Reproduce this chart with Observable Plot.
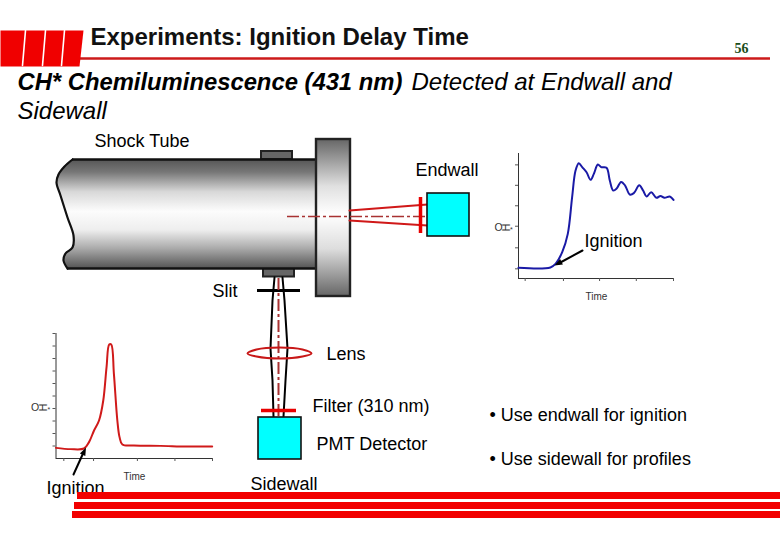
<!DOCTYPE html>
<html>
<head>
<meta charset="utf-8">
<script src="https://cdn.jsdelivr.net/npm/d3@7"></script>
<script src="https://cdn.jsdelivr.net/npm/@observablehq/plot@0.6"></script>
<style>html,body{margin:0;padding:0;background:#fff}svg{display:block}</style>
</head>
<body>
<div id="chart"></div>
<script>
// Endwall trace (time, CH* emission), relative units
const endwallTime = [0,.206,.239,.282,.318,.346,.368,.389,.411,.439,.465,.486,.512,.533,.568,.589,.611,.632,.662,.688,.718,.744,.779,.804,.826,.856,.89,.916,.942,.976,1];
const endwallSignal = [.094,.097,.129,.232,.393,.716,.95,1.015,.98,.935,.868,.921,1.003,.98,.974,.862,.774,.789,.85,.818,.739,.751,.821,.774,.721,.76,.71,.727,.71,.721,.692];
// Sidewall trace
const sidewallTime = [0,.094,.179,.211,.243,.275,.302,.323,.34,.353,.37,.392,.406,.424,.498,.668,.838,.998];
const sidewallSignal = [.085,.075,.08,.131,.224,.304,.464,.731,.912,.912,.677,.304,.171,.112,.104,.101,.096,.096];
const axisLabels = {x: "Time", y: ["O", "H", "*"]};
const titleText = "Experiments: Ignition Delay Time";
const pageNumber = "56";
const headingBold = "CH* Chemiluminescence (431 nm)";
const headingRest = "Detected at Endwall and";
const headingLine2 = "Sidewall";
const notes = ["• Use endwall for ignition", "• Use sidewall for profiles"];
const FONT = "Liberation Sans, Arial, sans-serif";

function inset({time, signal, color, w, h, ml, mb, yTicks, xTicks, domainY, left, top}) {
  const rows = time.map((t, i) => ({t, v: signal[i]}));
  const p = Plot.plot({
    width: w, height: h, marginLeft: ml, marginRight: 3, marginTop: 2, marginBottom: mb,
    style: {background: "transparent", overflow: "visible"},
    x: {domain: [0, 1]}, y: {domain: domainY},
    marks: [
      Plot.ruleX([0], {stroke: "#333", strokeWidth: 1}),
      Plot.ruleY([domainY[0]], {stroke: "#333", strokeWidth: 1}),
      Plot.axisY({ticks: yTicks, tickFormat: () => "", tickSize: 3, stroke: "#555", label: null}),
      Plot.axisX({ticks: xTicks, tickFormat: () => "", tickSize: 3, stroke: "#555", label: null}),
      Plot.line(rows, {x: "t", y: "v", stroke: color, strokeWidth: 2, curve: "catmull-rom"})
    ]
  });
  p.setAttribute("x", left);
  p.setAttribute("y", top);
  p.style.width = w + "px";
  p.style.height = h + "px";
  p.style.maxWidth = "none";
  return p;
}

const endwallInset = inset({time: endwallTime, signal: endwallSignal, color: "#1a1aa6",
  w: 173, h: 142, ml: 15, mb: 15, domainY: [0, 1.1], left: 503, top: 151,
  yTicks: [.085,.27,.46,.64,.82,1], xTicks: [.043,.29,.523,.76,1]});
const sidewallInset = inset({time: sidewallTime, signal: sidewallSignal, color: "#d01a1a",
  w: 174.5, h: 142, ml: 15, mb: 15, domainY: [0, 1], left: 40.5, top: 331,
  yTicks: [.1,.2,.3,.4,.5,.6,.7,.8,.9,1], xTicks: [.05,.24,.52,.76,1]});

const gradient = () => {
  const s = d3.create("svg:g");
  const defs = s.append("defs");
  [["tubeShade", [[0,"#555"],[.12,"#777"],[.3,"#d8d8d8"],[.48,"#fcfcfc"],[.65,"#eeeeee"],[.82,"#aaa"],[1,"#555"]]],
   ["flangeShade", [[0,"#666"],[.3,"#e0e0e0"],[.48,"#fff"],[.7,"#ddd"],[1,"#666"]]]].forEach(([id, stops]) => {
    const g = defs.append("linearGradient").attr("id", id).attr("x1", 0).attr("x2", 0).attr("y1", 0).attr("y2", 1);
    stops.forEach(([o, c]) => g.append("stop").attr("offset", o).attr("stop-color", c));
  });
  return s.node();
};

const tubeEdge = [[72,159],[64,166],[58,174],[56,182],[60,195],[67,217],[73,235],[72,247],[65,253],[63,260],[67,268]];
const lensRing = [[247,353],[256,349],[279,347],[302,349],[311,353],[302,356],[279,358],[256,356]];
const beamLeft = [[274,277],[272,300],[270,348],[272,380],[273,416]];
const beamRight = [[282,277],[284,300],[287,348],[285,380],[283,416]];
const stripeGaps = [[[25,30],[22,65]],[[45,30],[42,65]],[[64,30],[61,65]]];
const barEdges = [[77,492,499],[74,502,509],[72,511,518]];

const txt = (t, x, y, o = {}) => Plot.text([t], {
  x: () => x, y: () => y, text: d => d, textAnchor: "start", fontSize: 18, fill: "#000", fontFamily: FONT, lineAnchor: "middle", ...o});
const seg = (pts, o) => Plot.line(pts, {x: d => d[0], y: d => d[1], ...o});
const poly = (pts, fill) => Plot.line(pts, {x: d => d[0], y: d => d[1], fill, stroke: "none"});
const DARK = "#a83232";

const chart = Plot.plot({
  width: 780, height: 540, margin: 0,
  x: {domain: [0, 780], range: [0, 780], axis: null},
  y: {domain: [0, 540], range: [0, 540], axis: null},
  style: {background: "#fff"},
  marks: [
    gradient,
    // header block
    Plot.ruleY([58], {x1: 80, x2: 770, stroke: "#cc1a1a", strokeWidth: 2.5}),
    poly([[0,30],[83,30],[79,66],[0,66],[0,30]], "#f00000"),
    ...stripeGaps.map(g => seg(g, {stroke: "#fff", strokeWidth: 1.6})),
    txt(titleText, 90, 37, {fontSize: 24, fontWeight: "bold", fill: "#111"}),
    txt(pageNumber, 734, 48, {fontSize: 14, fontWeight: "bold", fontFamily: "Liberation Serif, serif", fill: "#1a4d1a"}),
    txt(headingBold, 17, 82, {fontSize: 23.8, fontWeight: "bold", fontStyle: "italic"}),
    txt(headingRest, 411, 82, {fontSize: 24, fontStyle: "italic"}),
    txt(headingLine2, 17, 111, {fontSize: 24, fontStyle: "italic"}),
    // shock tube
    Plot.rect([0], {x1: 261, x2: 292, y1: 151, y2: 159, fill: "#666", stroke: "#222", strokeWidth: 2}),
    Plot.rect([0], {x1: 263, x2: 294, y1: 268, y2: 276.5, fill: "#666", stroke: "#222", strokeWidth: 2}),
    Plot.areaX(tubeEdge, {x1: d => d[0], x2: 316, y: d => d[1], fill: "url(#tubeShade)", curve: "catmull-rom"}),
    Plot.line(tubeEdge, {x: d => d[0], y: d => d[1], stroke: "#111", strokeWidth: 2.2, curve: "catmull-rom"}),
    Plot.ruleY([159], {x1: 72, x2: 316, stroke: "#111", strokeWidth: 2.4}),
    Plot.ruleY([268], {x1: 67, x2: 316, stroke: "#111", strokeWidth: 2.4}),
    Plot.rect([0], {x1: 316, x2: 350, y1: 139, y2: 296, fill: "url(#flangeShade)", stroke: "#222", strokeWidth: 2.4}),
    // endwall optics
    seg([[349,210],[427,204]], {stroke: "#d01818", strokeWidth: 2}),
    seg([[349,220],[427,225]], {stroke: "#d01818", strokeWidth: 2}),
    Plot.ruleY([216], {x1: 287, x2: 427, stroke: DARK, strokeWidth: 1.6, strokeDasharray: "12 3 3 3"}),
    Plot.ruleX([420], {y1: 197, y2: 233, stroke: "#e80000", strokeWidth: 3.5}),
    Plot.rect([0], {x1: 427, x2: 469, y1: 193, y2: 236, fill: "#00ffff", stroke: "#111", strokeWidth: 1.6}),
    // sidewall optics
    Plot.ruleY([290], {x1: 257, x2: 300, stroke: "#000", strokeWidth: 3}),
    Plot.ruleX([278], {y1: 278, y2: 416, stroke: DARK, strokeWidth: 2, strokeDasharray: "12 3 3 3"}),
    Plot.line(beamLeft, {x: d => d[0], y: d => d[1], stroke: "#000", strokeWidth: 2}),
    Plot.line(beamRight, {x: d => d[0], y: d => d[1], stroke: "#000", strokeWidth: 2}),
    Plot.line(lensRing, {x: d => d[0], y: d => d[1], stroke: "#c81818", strokeWidth: 2, curve: "catmull-rom-closed"}),
    Plot.ruleY([410], {x1: 261, x2: 296, stroke: "#e80000", strokeWidth: 3.5}),
    Plot.rect([0], {x1: 258, x2: 301, y1: 417, y2: 459, fill: "#00ffff", stroke: "#111", strokeWidth: 1.6}),
    // labels
    txt("Shock Tube", 94, 141),
    txt("Endwall", 415, 170),
    txt("Ignition", 584, 241),
    txt("Slit", 212, 291),
    txt("Lens", 326, 354),
    txt("Filter (310 nm)", 312, 406),
    txt("PMT Detector", 316, 444),
    txt("Sidewall", 250, 484),
    txt(notes[0], 489, 415),
    txt(notes[1], 489, 459),
    // insets
    () => endwallInset,
    () => sidewallInset,
    txt(axisLabels.x, 585, 296, {fontSize: 10, fill: "#333"}),
    txt(axisLabels.x, 123, 476.5, {fontSize: 10, fill: "#333"}),
    txt(axisLabels.y[0], 494, 227, {fontSize: 10.5, fill: "#333"}),
    txt(axisLabels.y[1], 505, 227, {fontSize: 11, fill: "#333", rotate: 90, textAnchor: "middle"}),
    txt(axisLabels.y[2], 509.5, 229, {fontSize: 7, fill: "#333"}),
    txt(axisLabels.y[0], 30.5, 407, {fontSize: 10.5, fill: "#333"}),
    txt(axisLabels.y[1], 42, 407, {fontSize: 11, fill: "#333", rotate: 90, textAnchor: "middle"}),
    txt(axisLabels.y[2], 47, 409, {fontSize: 7, fill: "#333"}),
    seg([[582,250],[558,263]], {stroke: "#000", strokeWidth: 2}),
    poly([[554,265],[562.4,263.9],[559.6,258.6]], "#000"),
    seg([[73,474],[83,452]], {stroke: "#000", strokeWidth: 2}),
    poly([[85.5,447],[84.8,455.5],[79.4,453]], "#000"),
    txt("Ignition", 46, 488),
    // footer bars
    ...barEdges.map(([x, y1, y2]) => Plot.rect([0], {x1: x, x2: 780, y1, y2, fill: "#f20000"}))
  ]
});
document.getElementById("chart").append(chart);
</script>
</body>
</html>
